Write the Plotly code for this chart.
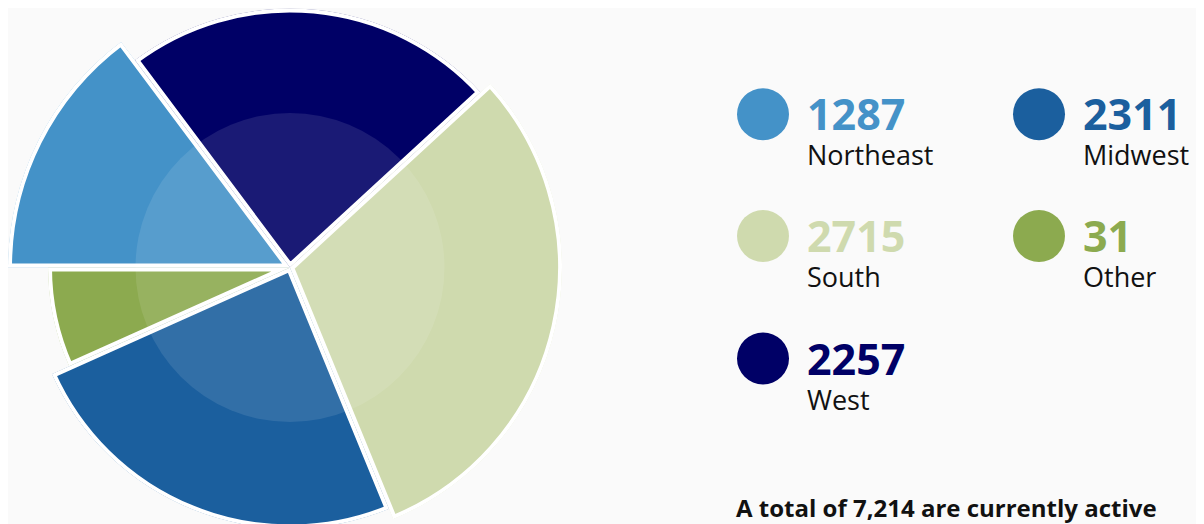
import math
import plotly.graph_objects as go

# ---- data ----
regions = ["Northeast", "West", "South", "Midwest", "Other"]          # clockwise slice order
counts = [1287, 2257, 2715, 2311, 31]
slice_angle = [53.2, 84.2, 110.3, 88.2, 24.1]                         # angular share (deg)
slice_radius = [282, 259, 272, 261, 242]                              # variable radius (z)
colors = ["#4492c8", "#000066", "#cfdaae", "#1b5f9e", "#8caa4f"]
legend_order = ["Northeast", "Midwest", "South", "Other", "West"]
total_text = "A total of 7,214 are currently active"

# ---- layout geometry ----
W, H = 1204, 524
OFF = 8                      # default page (body) margin around the figure
CX, CY = 290, 267.5          # pie centre, page pixels
inner_r = 154.5
start_angle = 270            # compass degrees (clockwise from north)


def fx(X):
    return (X - OFF) / W


def fy(Y):
    return 1 - (Y - OFF) / H


def clamp01(v):
    return min(1.0, max(0.0, v))


def sector_bbox(s0, s1):
    """Port of plotly.js computeSectorBBox (unit radius, y up)."""
    arc = s1 - s0
    a0 = s0 % 360
    a1 = a0 + arc
    ax0, ay0 = math.cos(math.radians(a0)), math.sin(math.radians(a0))
    ax1, ay1 = math.cos(math.radians(a1)), math.sin(math.radians(a1))
    if (a0 <= 90 and a1 >= 90) or (a0 > 90 and a1 >= 450):
        y1 = 1
    elif ay0 <= 0 and ay1 <= 0:
        y1 = 0
    else:
        y1 = max(ay0, ay1)
    if (a0 <= 180 and a1 >= 180) or (a0 > 180 and a1 >= 540):
        x0 = -1
    elif ax0 >= 0 and ax1 >= 0:
        x0 = 0
    else:
        x0 = min(ax0, ax1)
    if (a0 <= 270 and a1 >= 270) or (a0 > 270 and a1 >= 630):
        y0 = -1
    elif ay0 >= 0 and ay1 >= 0:
        y0 = 0
    else:
        y0 = min(ay0, ay1)
    if a1 >= 360:
        x1 = 1
    elif ax0 <= 0 and ax1 <= 0:
        x1 = 0
    else:
        x1 = max(ax0, ax1)
    return x0, y0, x1, y1


fig = go.Figure()
layout_polars = {}
acc = start_angle
for k, name in enumerate(regions):
    span = slice_angle[k]
    r = slice_radius[k]
    s, e = acc, acc + span
    theta_mid = (acc + span / 2) % 360
    acc += span
    pid = "polar" if k == 0 else f"polar{k + 1}"
    # screen-angle sector (counterclockwise from east)
    sec = [90 - e, 90 - s]
    bx0, by0, bx1, by1 = sector_bbox(*sec)
    left = CX + r * bx0
    right = CX + r * bx1
    top = CY - r * by1
    bottom = CY - r * by0
    layout_polars[pid] = dict(
        domain=dict(x=[clamp01(fx(left)), clamp01(fx(right))],
                    y=[clamp01(fy(bottom)), clamp01(fy(top))]),
        sector=sec,
        bgcolor="rgba(0,0,0,0)",
        radialaxis=dict(visible=False, range=[0, r]),
        angularaxis=dict(visible=False, rotation=90, direction="clockwise"),
    )
    fig.add_trace(go.Scatterpolar(
        r=[0], theta=[0], mode="markers", marker=dict(opacity=0, size=1),
        cliponaxis=False, hoverinfo="skip", showlegend=False, subplot=pid))
    fig.add_trace(go.Barpolar(
        r=[r], theta=[theta_mid], width=[span],
        marker=dict(color=colors[k], line=dict(color="white", width=8)),
        customdata=[counts[k]], text=[name],
        hovertemplate="%{text}: %{customdata}<extra></extra>",
        showlegend=False, subplot=pid))

shapes = [dict(
    type="circle", xref="paper", yref="paper", xsizemode="pixel", ysizemode="pixel",
    xanchor=fx(CX), yanchor=fy(CY), x0=-inner_r, x1=inner_r, y0=-inner_r, y1=inner_r,
    fillcolor="rgba(255,255,255,0.10)", line=dict(width=0), layer="above")]

annotations = []
col_x = [763, 1039]
row_y = [114.2, 236, 358.4]
dot_r = 26
text_dx = 42
for i, name in enumerate(legend_order):
    k = regions.index(name)
    x0 = col_x[i % 2]
    y0 = row_y[i // 2]
    shapes.append(dict(
        type="circle", xref="paper", yref="paper",
        x0=fx(x0 - dot_r), x1=fx(x0 + dot_r), y0=fy(y0 + dot_r), y1=fy(y0 - dot_r),
        fillcolor=colors[k], line=dict(width=0), layer="above"))
    annotations.append(dict(
        text=(f"<span style='font-size:43px;color:{colors[k]}'><b>{counts[k]}</b></span>"
              f"<br>{name}"),
        xref="paper", yref="paper",
        x=fx(x0 + text_dx), y=fy(y0 - 31.9), xanchor="left", yanchor="top",
        align="left", showarrow=False,
        font=dict(family="Open Sans", size=27, color="#111111")))

annotations.append(dict(
    text=f"<b>{total_text}</b>", xref="paper", yref="paper",
    x=fx(734), y=fy(507), xanchor="left", yanchor="middle", showarrow=False,
    font=dict(family="Open Sans", size=24, color="#111111")))

fig.update_layout(
    width=W, height=H,
    margin=dict(l=0, r=0, t=0, b=0),
    paper_bgcolor="#fafafa", plot_bgcolor="#fafafa",
    showlegend=False,
    shapes=shapes,
    annotations=annotations,
    **layout_polars,
)

fig.write_html("out.html")
